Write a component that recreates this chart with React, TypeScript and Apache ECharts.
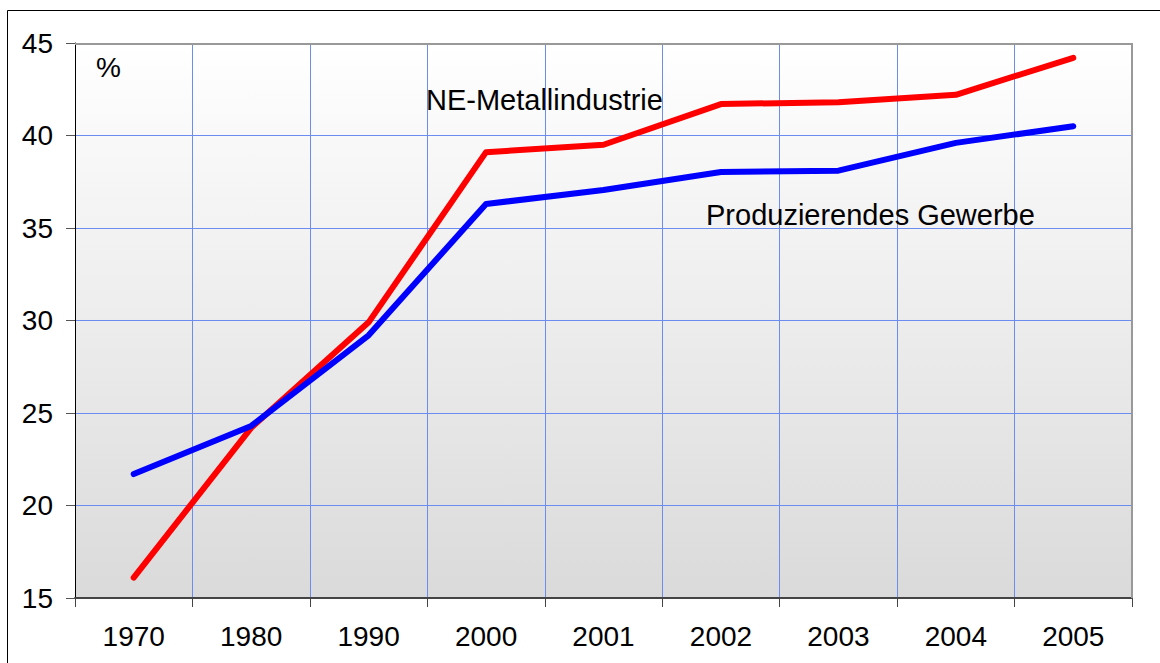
import React, { useEffect, useRef } from "react";
import * as echarts from "echarts";

const categories = ["1970", "1980", "1990", "2000", "2001", "2002", "2003", "2004", "2005"];
const neMetall = [16.1, 24.2, 29.9, 39.1, 39.5, 41.7, 41.8, 42.2, 44.2];
const produzierend = [21.7, 24.3, 29.2, 36.3, 37.05, 38.03, 38.1, 39.6, 40.5];
const seriesNames = ["NE-Metallindustrie", "Produzierendes Gewerbe"];
const yMin = 15;
const yMax = 45;
const yStep = 5;

const FONT = "'Liberation Sans', Arial, sans-serif";

export default function App() {
  const ref = useRef<HTMLDivElement>(null);
  useEffect(() => {
    if (!ref.current) return;
    const chart = echarts.init(ref.current, null, { renderer: "svg" });
    chart.setOption({
      animation: false,
      backgroundColor: "#ffffff",
      textStyle: { fontFamily: FONT },
      grid: { left: 75, top: 43, right: 28, bottom: 65, containLabel: false, show: false },
      xAxis: {
        type: "category",
        data: categories,
        boundaryGap: true,
        axisLine: { show: true, lineStyle: { color: "#444", width: 2 } },
        axisTick: { show: true, inside: false, length: 9, alignWithLabel: false, lineStyle: { color: "#444", width: 1 } },
        axisLabel: { margin: 24, fontSize: 28, color: "#000", fontFamily: FONT },
        splitLine: { show: true, interval: 0, lineStyle: { color: "#6b8cf0", width: 1 } },
      },
      yAxis: {
        type: "value",
        min: yMin,
        max: yMax,
        interval: yStep,
        axisLine: { show: true, lineStyle: { color: "#000", width: 1 } },
        axisTick: { show: true, inside: false, length: 9, lineStyle: { color: "#555", width: 1 } },
        axisLabel: { margin: 22, fontSize: 28, color: "#000", fontFamily: FONT },
        splitLine: { show: true, lineStyle: { color: "#6b8cf0", width: 1 } },
      },
      graphic: [
        {
          type: "rect",
          z: -10,
          silent: true,
          shape: { x: 75, y: 43, width: 1057, height: 555 },
          style: {
            fill: new echarts.graphic.LinearGradient(0, 0, 0, 1, [
              { offset: 0, color: "#ffffff" },
              { offset: 1, color: "#dadada" },
            ]),
          },
        },
        {
          type: "polyline",
          z: 10,
          silent: true,
          shape: { points: [[75, 44], [1132, 44], [1132, 598]] },
          style: { stroke: "#999999", lineWidth: 2, fill: null },
        },
        {
          type: "rect",
          z: 10,
          silent: true,
          shape: { x: 7.5, y: 10.5, width: 1300, height: 800 },
          style: { stroke: "#000", lineWidth: 1, fill: null },
        },
        {
          type: "text",
          z: 20,
          left: 96,
          top: 53,
          style: { text: "%", font: `28px ${FONT}`, fill: "#000" },
        },
        {
          type: "text",
          z: 20,
          x: 426,
          y: 100,
          style: { text: seriesNames[0], font: `29px ${FONT}`, fill: "#000", textVerticalAlign: "middle", verticalAlign: "middle" },
        },
        {
          type: "text",
          z: 20,
          x: 706,
          y: 215,
          style: { text: seriesNames[1], font: `29px ${FONT}`, fill: "#000", textVerticalAlign: "middle", verticalAlign: "middle" },
        },
      ],
      series: [
        {
          name: seriesNames[0],
          type: "line",
          data: neMetall,
          showSymbol: false,
          symbol: "none",
          lineStyle: { color: "#ff0000", width: 6, cap: "round", join: "round" },
          z: 5,
        },
        {
          name: seriesNames[1],
          type: "line",
          data: produzierend,
          showSymbol: false,
          symbol: "none",
          lineStyle: { color: "#0000ff", width: 6, cap: "round", join: "round" },
          z: 6,
        },
      ],
    });
    return () => chart.dispose();
  }, []);
  return <div ref={ref} style={{ position: "absolute", left: 0, top: 0, width: 1160, height: 663 }} />;
}
